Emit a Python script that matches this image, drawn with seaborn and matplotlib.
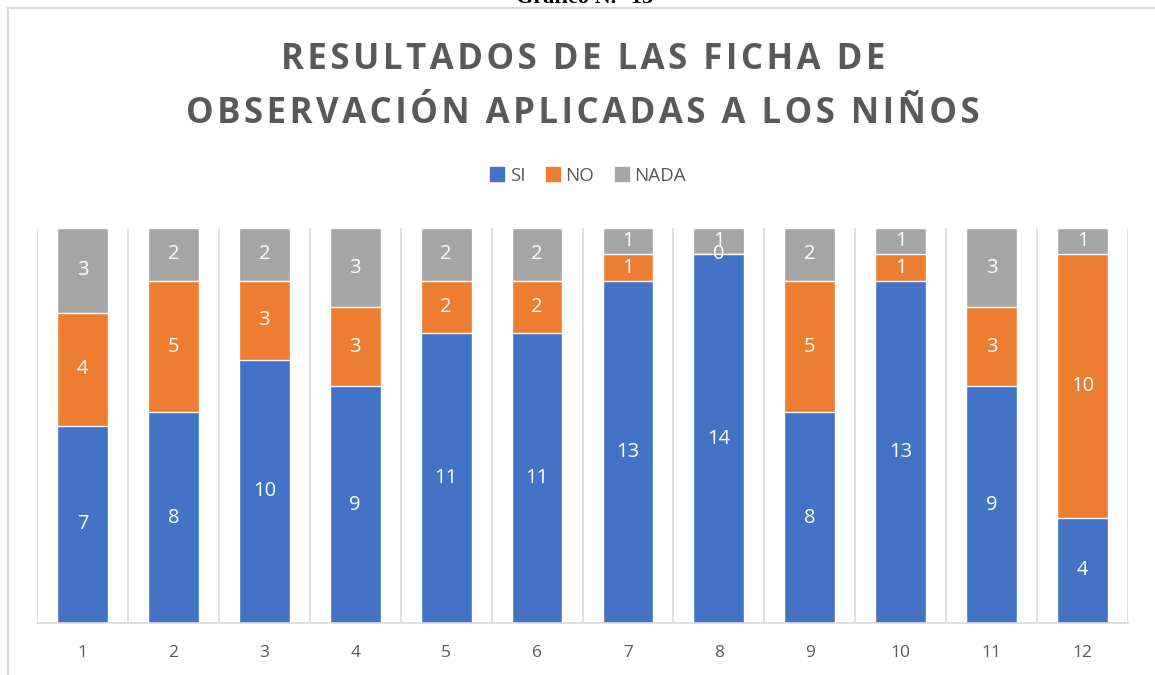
import numpy as np
import pandas as pd
import matplotlib
matplotlib.use('Agg')
import matplotlib.pyplot as plt
from matplotlib.patches import Rectangle
from matplotlib.lines import Line2D
import seaborn as sns

# -- -- -- data -- -- --
categorias = ['1', '2', '3', '4', '5', '6', '7', '8', '9', '10', '11', '12']
si = [7, 8, 10, 9, 11, 11, 13, 14, 8, 13, 9, 4]
no = [4, 5, 3, 3, 2, 2, 1, 0, 5, 1, 3, 10]
nada = [3, 2, 2, 3, 2, 2, 1, 1, 2, 1, 3, 1]
series = ['SI', 'NO', 'NADA']
colores = ['#4472C4', '#ED7D31', '#A5A5A5']
titulo = ['RESULTADOS DE LAS FICHA DE', 'OBSERVACIÓN APLICADAS A LOS NIÑOS']

# 100% stacked -> shares per category
df = pd.DataFrame({'cat': categorias, 'SI': si, 'NO': no, 'NADA': nada})
df['TOTAL'] = df['SI'] + df['NO'] + df['NADA']
for col in series:
    df[col + '_p'] = df[col] / df['TOTAL']
df['SI_NO_p'] = df['SI_p'] + df['NO_p']
df['ALL_p'] = df['SI_NO_p'] + df['NADA_p']

sns.set_theme(style='white')
plt.rcParams['font.family'] = ['Open Sans', 'DejaVu Sans']
gris = '#595959'

fig = plt.figure(figsize=(11.55, 6.75), dpi=100)
ax = fig.add_axes([37 / 1155, 1 - 623 / 675, (1128 - 37) / 1155, (623 - 228) / 675])

# stacked bars drawn as layers (total -> si+no -> si)
sns.barplot(data=df, x='cat', y='ALL_p', color=colores[2], width=0.56, saturation=1, ax=ax)
sns.barplot(data=df, x='cat', y='SI_NO_p', color=colores[1], width=0.56, saturation=1, ax=ax)
sns.barplot(data=df, x='cat', y='SI_p', color=colores[0], width=0.56, saturation=1, ax=ax)

# data labels (raw counts, centred on each segment)
for i in range(len(categorias)):
    base = 0
    for col in series:
        p = df[col + '_p'].iloc[i]
        ax.text(i, base + p / 2, str(df[col].iloc[i]), ha='center', va='center',
                color='white', fontsize=14.5)
        base += p

ax.set_xlim(-0.5, len(categorias) - 0.5)
ax.set_ylim(0, 1)
ax.vlines(np.arange(-0.5, len(categorias)), 0, 1, color='#d9d9d9', lw=1.2, zorder=0)
ax.set_yticks([])
ax.set_xlabel('')
ax.set_ylabel('')
for s in ['top', 'left', 'right']:
    ax.spines[s].set_visible(False)
ax.spines['bottom'].set_color('#d9d9d9')
ax.spines['bottom'].set_linewidth(1.2)
ax.tick_params(axis='x', length=0, pad=16, labelsize=12.5, labelcolor=gris)

# title (letter spaced) and legend
def espaciado(s):
    return '\u200a'.join(s)

fig.text(583 / 1155, 1 - 87 / 675, '\n'.join(espaciado(t) for t in titulo),
         ha='center', va='center', fontsize=25, fontweight='bold', color=gris, linespacing=1.68)
handles = [Line2D([0], [0], marker='s', ls='', color=c, markersize=9.5) for c in colores]
fig.legend(handles, series, loc='center', bbox_to_anchor=(588 / 1155, 1 - 176 / 675), ncol=3,
           frameon=False, fontsize=13.5, handlelength=0.8, handletextpad=0.25, columnspacing=1.1,
           labelcolor=gris)

# outer frame and cut caption above it
fig.patches.append(Rectangle((8 / 1155, -0.1), 1.2, 1 - 8 / 675 + 0.1, transform=fig.transFigure,
                             fill=False, edgecolor='#d9d9d9', lw=1.5))
fig.text(585 / 1155, 1 - 3 / 675, 'Gráfico N.° 13', ha='center', va='baseline',
         fontsize=16, fontweight='bold', family='Liberation Serif', color='black')

fig.savefig('out.png', dpi=100)
